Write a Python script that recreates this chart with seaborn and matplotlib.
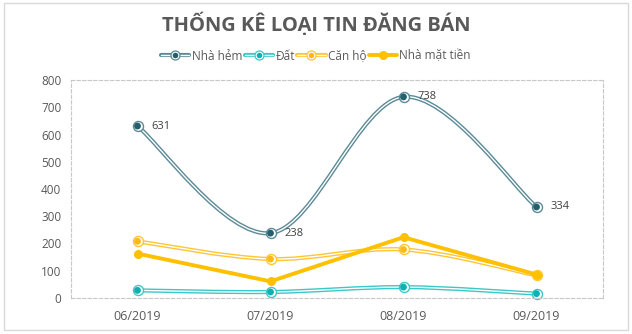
import numpy as np
import pandas as pd
import matplotlib
matplotlib.use("Agg")
import matplotlib.pyplot as plt
from matplotlib.path import Path
from matplotlib.patches import PathPatch, Rectangle
from matplotlib.lines import Line2D
from matplotlib.legend_handler import HandlerTuple
import seaborn as sns

# ---- data ----
months = ["06/2019", "07/2019", "08/2019", "09/2019"]
nha_hem = [631, 238, 738, 334]
dat = [28, 22, 40, 16]
can_ho = [208, 143, 178, 83]
nha_mat_tien = [163, 61, 223, 86]
series_names = ["Nhà hẻm", "Đất", "Căn hộ", "Nhà mặt tiền"]
title = "THỐNG KÊ LOẠI TIN ĐĂNG BÁN"
yticks = [0, 100, 200, 300, 400, 500, 600, 700, 800]

sns.set_theme(style="white")
plt.rcParams["font.family"] = ["Open Sans", "DejaVu Sans"]

TXT = "#595959"
C_HEM = "#5B8A96"
C_HEM_IN = "#255E6D"
C_DAT = "#3CC8C8"
C_DAT_IN = "#0FB0B0"
C_CAN = "#FFC533"
C_CAN_IN = "#FFBA12"
C_MT = "#FFC000"

fig = plt.figure(figsize=(6.32, 3.34), dpi=100)
fig.patch.set_facecolor("white")
ax = fig.add_axes([71 / 632, 1 - 298 / 334, 532 / 632, 218 / 334])

x = np.arange(len(months))
df = pd.DataFrame({"x": x, "Nhà hẻm": nha_hem, "Đất": dat,
                   "Căn hộ": can_ho, "Nhà mặt tiền": nha_mat_tien})


def smooth_path(xs, ys):
    pts = np.column_stack([xs, ys]).astype(float)
    n = len(pts)
    verts = [pts[0]]
    codes = [Path.MOVETO]
    for i in range(n - 1):
        p0 = pts[max(i - 1, 0)]
        p1 = pts[i]
        p2 = pts[i + 1]
        p3 = pts[min(i + 2, n - 1)]
        c1 = p1 + (p2 - p0) / 6.0
        c2 = p2 - (p3 - p1) / 6.0
        verts += [c1, c2, p2]
        codes += [Path.CURVE4] * 3
    return Path(verts, codes)


def double_line(col, outer, mcol, z):
    path = smooth_path(df["x"], df[col])
    ax.add_patch(PathPatch(path, fc="none", ec=outer, lw=3.0, zorder=z, clip_on=False))
    ax.add_patch(PathPatch(path, fc="none", ec="white", lw=1.0, zorder=z + 0.1, clip_on=False))
    sns.scatterplot(data=df, x="x", y=col, ax=ax, s=52, color="white",
                    edgecolor=outer, linewidth=1.0, zorder=z + 0.2, clip_on=False, legend=False)
    sns.scatterplot(data=df, x="x", y=col, ax=ax, s=24, color=mcol,
                    edgecolor="none", linewidth=0, zorder=z + 0.3, clip_on=False, legend=False)


double_line("Đất", C_DAT, C_DAT_IN, 2)
double_line("Căn hộ", C_CAN, C_CAN_IN, 3)
sns.lineplot(data=df, x="x", y="Nhà mặt tiền", ax=ax, color=C_MT, lw=2.8,
             marker="o", markersize=6.5, markeredgewidth=0, zorder=4, clip_on=False)
double_line("Nhà hẻm", C_HEM, C_HEM_IN, 5)

for xi, v in zip(x, nha_hem):
    ax.annotate(str(v), (xi, v), xytext=(10, 0), textcoords="offset points",
                ha="left", va="center", fontsize=8, color="#404040", zorder=10)

ax.set_xlim(-0.5, len(months) - 0.5)
ax.set_ylim(0, 800)
ax.set_yticks(yticks)
ax.set_yticklabels([str(t) for t in yticks], fontsize=8.5, color=TXT)
ax.set_xticks(x)
ax.set_xticklabels(months, fontsize=9, color=TXT)
ax.tick_params(axis="y", length=0, pad=7)
ax.tick_params(axis="x", length=0, pad=9)
ax.set_xlabel("")
ax.set_ylabel("")
for s in ax.spines.values():
    s.set_visible(True)
    s.set_color("#C8C8C8")
    s.set_linestyle((0, (3, 2)))
    s.set_linewidth(0.8)
ax.grid(False)


# legend
def dh(outer, mcol):
    return (Line2D([], [], color=outer, lw=3.0),
            Line2D([], [], color="white", lw=1.0),
            Line2D([], [], ls="none", marker="o", markersize=6.5, mfc="white", mec=outer, mew=0.9),
            Line2D([], [], ls="none", marker="o", markersize=4, mfc=mcol, mec="none"))


handles = [dh(C_HEM, C_HEM_IN), dh(C_DAT, C_DAT_IN), dh(C_CAN, C_CAN_IN),
           Line2D([], [], color=C_MT, lw=2.8, marker="o", markersize=6.5, mew=0)]
fig.legend(handles, series_names, loc="center", bbox_to_anchor=(316 / 632, 1 - 56 / 334),
           ncol=4, frameon=False, fontsize=8.5, labelcolor=TXT,
           handler_map={tuple: HandlerTuple(ndivide=1, pad=0)},
           handlelength=2.4, handletextpad=0.2, columnspacing=0.2)

fig.text(316 / 632, 1 - 24 / 334, title, ha="center", va="center",
         fontsize=14.5, fontweight="bold", color=TXT)

# chart frame
fig.patches.append(Rectangle((4 / 632, 1 - 330 / 334), 624 / 632, 327 / 334,
                             transform=fig.transFigure, fill=False, ec="#D9D9D9", lw=1))

fig.savefig("out.png", dpi=100, facecolor="white")
